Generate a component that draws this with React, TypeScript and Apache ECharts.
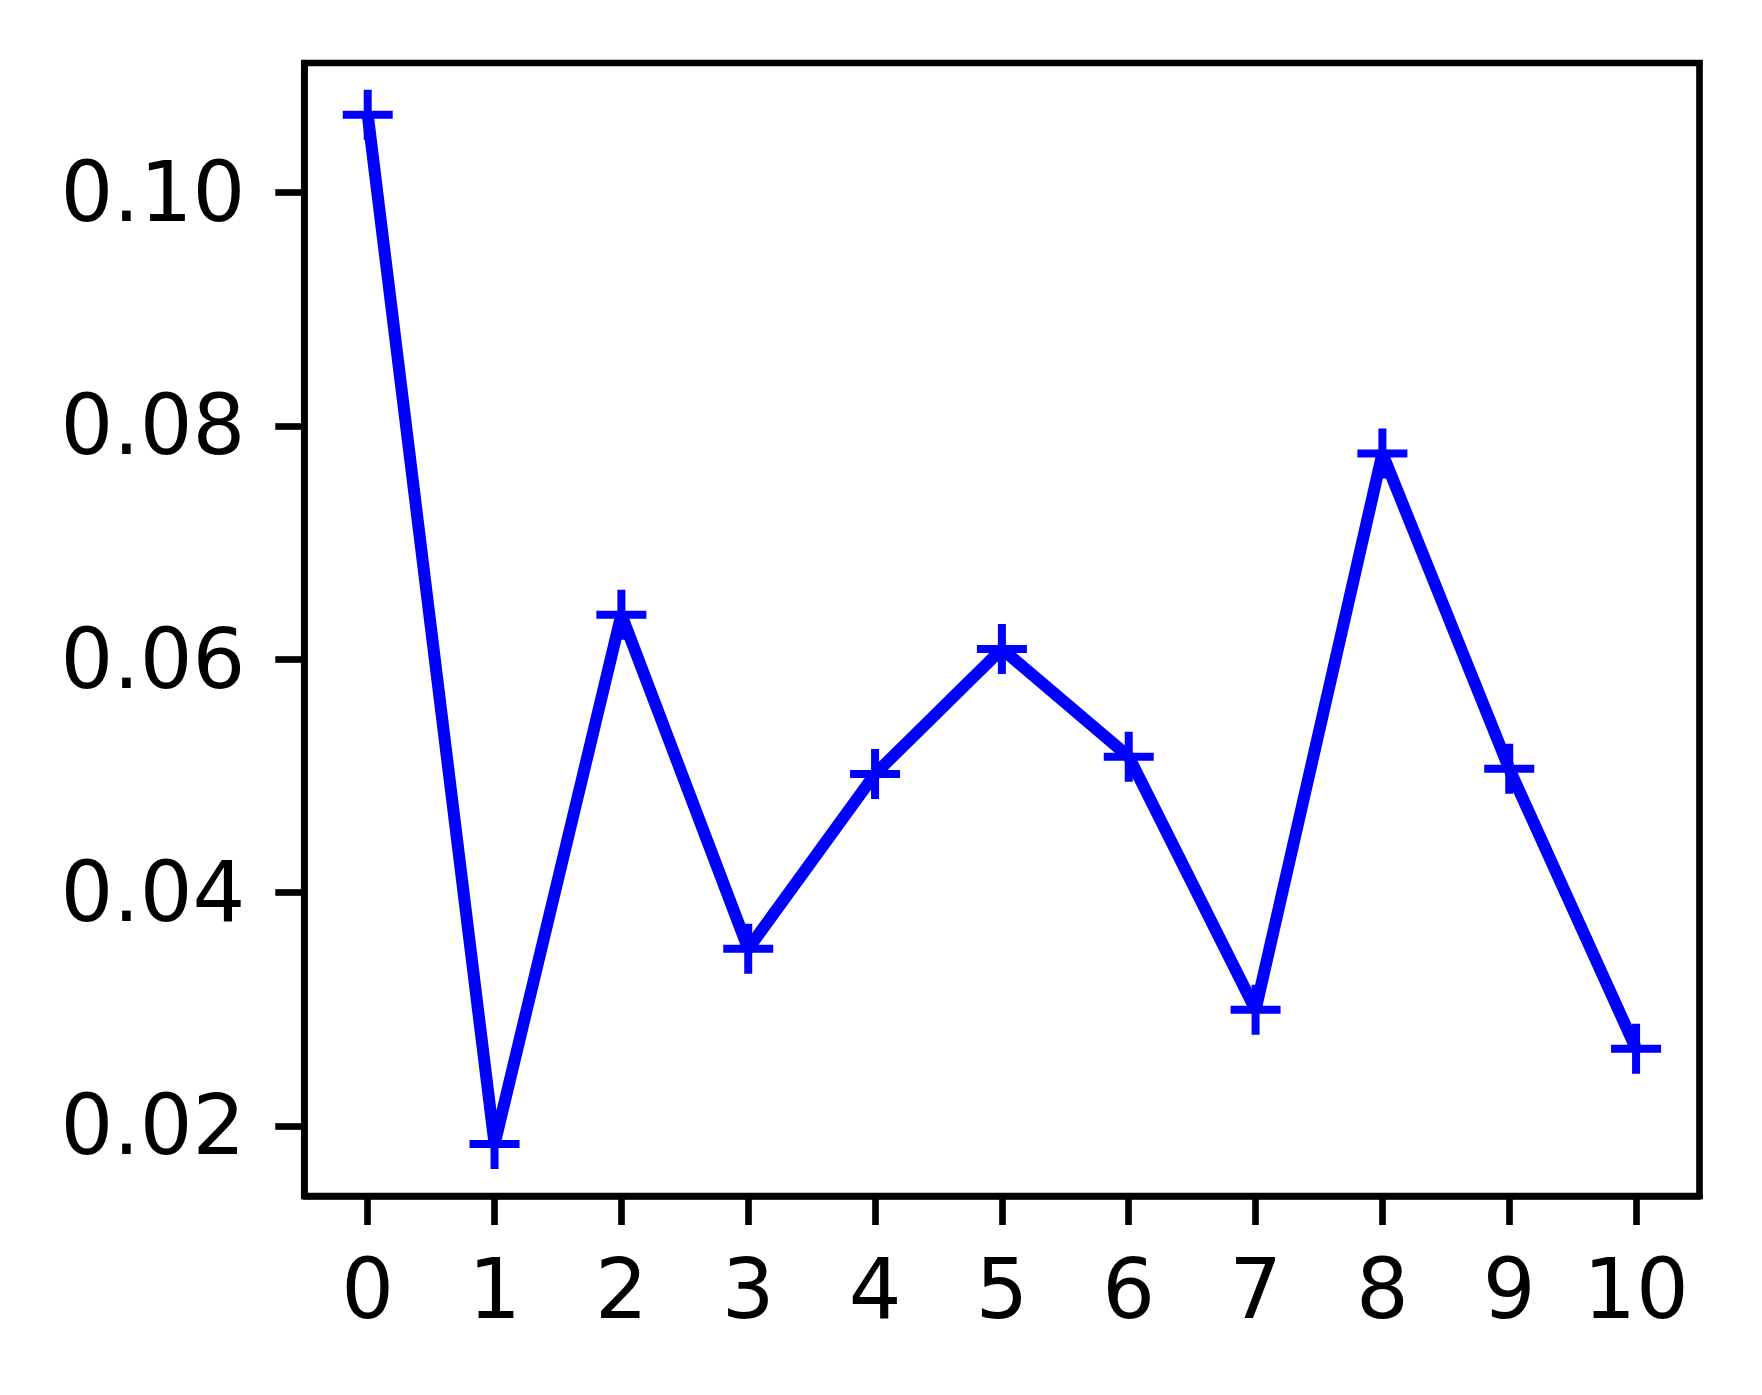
import React, { useEffect, useRef } from "react";
import * as echarts from "echarts";

const xValues = [0, 1, 2, 3, 4, 5, 6, 7, 8, 9, 10];
const yValues = [0.10666, 0.01845, 0.06382, 0.03519, 0.05017, 0.06088, 0.05165, 0.02996, 0.07763, 0.05062, 0.02662];
const xTickValues = [0, 1, 2, 3, 4, 5, 6, 7, 8, 9, 10];
const yTickValues = [0.02, 0.04, 0.06, 0.08, 0.1];
const xMin = -0.5;
const xMax = 10.5;
const yMin = 0.0140;
const yMax = 0.1111;

const PLUS = "path://M21,0 H29 V21 H50 V29 H29 V50 H21 V29 H0 V21 H21 Z";

export default function App() {
  const ref = useRef<HTMLDivElement>(null);
  useEffect(() => {
    if (!ref.current) return;
    const chart = echarts.init(ref.current, null, { renderer: "svg" });
    const font = "DejaVu Sans";
    const axisLineStyle = { color: "#000", width: 6.67 };
    chart.setOption({
      animation: false,
      backgroundColor: "#fff",
      grid: {
        left: 304.3,
        right: 62.5,
        top: 63,
        bottom: 199,
        show: true,
        borderColor: "#000",
        borderWidth: 6.67,
        backgroundColor: "transparent",
      },
      xAxis: {
        type: "value",
        min: xMin,
        max: xMax,
        splitLine: { show: false },
        axisLine: { show: true, onZero: false, lineStyle: axisLineStyle },
        axisTick: {
          show: true,
          length: 29,
          lineStyle: axisLineStyle,
          customValues: xTickValues,
        },
        axisLabel: {
          show: true,
          customValues: xTickValues,
          fontFamily: font,
          fontSize: 83,
          lineHeight: 83,
          color: "#000",
          margin: 52,
          formatter: (v: number) => String(v),
        },
      },
      yAxis: {
        type: "value",
        min: yMin,
        max: yMax,
        splitLine: { show: false },
        axisLine: { show: true, onZero: false, lineStyle: axisLineStyle },
        axisTick: {
          show: true,
          length: 29,
          lineStyle: axisLineStyle,
          customValues: yTickValues,
        },
        axisLabel: {
          show: true,
          customValues: yTickValues,
          fontFamily: font,
          fontSize: 83,
          lineHeight: 83,
          color: "#000",
          margin: 59,
          formatter: (v: number) => v.toFixed(2),
        },
      },
      series: [
        {
          type: "line",
          data: xValues.map((x, i) => [x, yValues[i]]),
          lineStyle: { color: "#0000ff", width: 12 },
          itemStyle: { color: "#0000ff" },
          symbol: PLUS,
          symbolSize: 50,
          showSymbol: true,
          clip: false,
        },
      ],
    });
    return () => chart.dispose();
  }, []);
  return (
    <div
      ref={ref}
      style={{ position: "fixed", left: 0, top: 0, width: 1762, height: 1395, background: "#fff" }}
    />
  );
}
